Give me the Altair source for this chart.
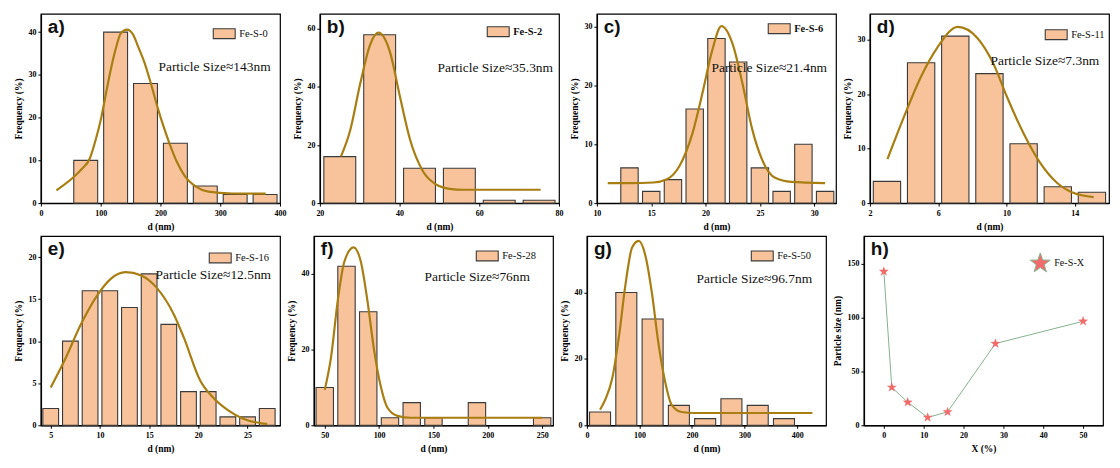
import altair as alt
import pandas as pd

FILL = "#F8C39B"
EDGE = "#3a3a3a"
CURVE = "#A87E12"
GREEN = "#86b28f"
RED = "#F26B6B"
SERIF = "Liberation Serif"
SANS = "Liberation Sans"
W, H = 240, 190
RECT = "M-1,-0.45L1,-0.45L1,0.45L-1,0.45Z"
STAR = ("M0,-1L0.235,-0.324L0.951,-0.309L0.38,0.124L0.588,0.809L0,0.4L-0.588,0.809"
        "L-0.38,0.124L-0.951,-0.309L-0.235,-0.324Z")

# ---------------- data ----------------
a_centers = [75, 125, 175, 225, 275, 325, 375]
a_freq = [10, 40, 28, 14, 4, 2, 2]
a_fit_x = [26, 54, 68, 82, 92, 101, 108, 115, 125, 134, 144, 154, 163, 173, 184, 195, 205, 215, 228, 240, 260, 280, 320, 376]
a_fit_y = [3.0, 6.0, 7.9, 10.5, 15, 20, 25, 30, 36, 39.8, 40.6, 39.5, 36.5, 33, 28, 22.5, 18, 14, 9.5, 6.5, 3.8, 2.7, 2.25, 2.2]

b_centers = [25, 35, 45, 55, 65, 75]
b_freq = [16, 58, 12, 12, 1, 1]
b_fit_x = [25.3, 27.6, 30.1, 32.6, 34.7, 37.6, 40.1, 42.6, 45.9, 49.2, 52.6, 56, 60, 75.4]
b_fit_y = [16.1, 25, 41, 54.5, 58.7, 52, 36.6, 22, 10.9, 6.4, 4.9, 4.6, 4.6, 4.6]

c_centers = [13, 15, 17, 19, 21, 23, 25, 27, 29, 31]
c_freq = [6, 2, 4, 16, 28, 24, 6, 2, 10, 2]
c_fit_x = [11, 13, 15.2, 16.4, 17.6, 18.8, 19.7, 20.6, 21.46, 22.5, 23.4, 24.3, 25.2, 26.4, 27.9, 31]
c_fit_y = [3.4, 3.4, 3.5, 4.0, 6.3, 11.9, 18.6, 25.9, 30.1, 27, 20.3, 12.5, 7.4, 4.3, 3.6, 3.4]

d_centers = [3, 5, 7, 9, 11, 13, 15]
d_freq = [4, 25.8, 30.7, 23.8, 10.9, 3, 2]
d_fit_x = [3.03, 4.0, 4.97, 5.95, 7.15, 8.28, 9.25, 10.03, 11.0, 11.97, 12.95, 13.9, 15.1]
d_fit_y = [8.1, 15.9, 23.1, 28.6, 32.4, 30.4, 25.5, 19.5, 12.8, 7.4, 3.75, 1.9, 1.1]

e_centers = [5, 7, 9, 11, 13, 15, 17, 19, 21, 23, 25, 27]
e_freq = [2, 10, 16, 16, 14, 18, 12, 4, 4, 1, 1, 2]
e_fit_x = [5, 6.4, 8.07, 9.76, 11.1, 12.6, 14.2, 15.8, 17.5, 18.5, 20.2, 21.5, 23, 24.5, 27]
e_fit_y = [4.5, 7.7, 12, 15.5, 17.4, 18.2, 17.8, 16.3, 13.2, 10.5, 5.3, 3.3, 1.8, 0.8, 0.15]

f_centers = [50, 70, 90, 110, 130, 150, 190, 250]
f_freq = [10, 42, 30, 2, 6, 2, 6, 2]
f_fit_x = [50, 55.8, 61.9, 68, 76.5, 83.2, 89.3, 95.4, 101.5, 107.6, 116.8, 129, 150, 250]
f_fit_y = [9.4, 18, 32.8, 43.2, 47, 43.2, 32.8, 19.8, 10.3, 4.7, 2.5, 2.0, 2.0, 2.0]

g_centers = [25, 75, 125, 175, 225, 275, 325, 375]
g_freq = [4, 40, 32, 6, 2, 8, 6, 2]
g_fit_x = [25, 36, 48, 61, 73.5, 86, 98.6, 111, 124, 136, 149, 161, 180, 205, 250, 429]
g_fit_y = [4.7, 8.1, 14, 26.8, 42.5, 53.5, 55.5, 51.3, 39.5, 24.8, 13, 6.2, 4, 3.7, 3.7, 3.7]

h_x = [0, 2, 6, 11, 16, 28, 50]
h_y = [143, 35.3, 21.4, 7.3, 12.5, 76, 96.7]


def annot(text, x, y, font, size, weight="normal"):
    return alt.Chart(pd.DataFrame({"t": [text]})).mark_text(
        align="left", baseline="alphabetic", font=font, fontSize=size,
        fontWeight=weight, color="#111").encode(
        x=alt.value(x), y=alt.value(y), text="t:N")


def xaxis(vals):
    return alt.Axis(values=vals, labelOverlap=False, labelFlush=False,
                    labelPadding=3, titlePadding=4)


def yaxis(vals):
    return alt.Axis(values=vals, labelOverlap=False, labelFlush=False,
                    labelPadding=2, titlePadding=4)


def hist_panel(name, label, centers, freq, binw, fx, fy, xdom, xticks, ydom, yticks,
               size_txt, tpos, lpos, lbold):
    w = 0.8 * binw
    bars = pd.DataFrame({
        "x0": [c - w / 2 for c in centers],
        "x1": [c + w / 2 for c in centers],
        "f": freq, "z": [0] * len(freq), "s": [name] * len(freq)})
    fit = pd.DataFrame({"x": fx, "y": fy})
    xs = alt.Scale(domain=xdom, nice=False, zero=False)
    ys = alt.Scale(domain=ydom, nice=False, zero=False)
    leg = alt.Legend(orient="none", legendX=lpos[0], legendY=lpos[1] - 6, title=None,
                     symbolType=RECT, symbolSize=484, symbolStrokeColor=EDGE,
                     symbolStrokeWidth=1.1, symbolFillColor=FILL, labelFont=SERIF,
                     labelFontSize=10.5, labelFontWeight="bold" if lbold else "normal",
                     labelOffset=3, padding=0, labelColor="#111")
    b = alt.Chart(bars).mark_bar(stroke=EDGE, strokeWidth=1.1, opacity=1).encode(
        x=alt.X("x0:Q", scale=xs, title="d (nm)", axis=xaxis(xticks)), x2="x1",
        y=alt.Y("f:Q", scale=ys, title="Frequency (%)", axis=yaxis(yticks)), y2="z",
        color=alt.Color("s:N", scale=alt.Scale(domain=[name], range=[FILL]), legend=leg))
    c = alt.Chart(fit).mark_line(color=CURVE, strokeWidth=2.2, interpolate="monotone").encode(
        x="x:Q", y="y:Q")
    t1 = annot(size_txt, tpos[0], tpos[1], SERIF, 13.5)
    t2 = annot(label, 7, 19, SANS, 19, "bold")
    return alt.layer(b, c, t1, t2).properties(width=W, height=H)


pa = hist_panel("Fe-S-0", "a)", a_centers, a_freq, 50, a_fit_x, a_fit_y, [0, 400],
                [0, 100, 200, 300, 400], [0, 44.3], [0, 10, 20, 30, 40],
                "Particle Size≈143nm", (118, 57), (172, 14), False)
pb = hist_panel("Fe-S-2", "b)", b_centers, b_freq, 10, b_fit_x, b_fit_y, [20, 80],
                [20, 30, 40, 50, 60, 70, 80], [0, 65.2], [0, 10, 20, 30, 40, 50, 60],
                "Particle Size≈35.3nm", (118, 58), (167, 12), True)
pc = hist_panel("Fe-S-6", "c)", c_centers, c_freq, 2, c_fit_x, c_fit_y, [10, 32],
                [10, 15, 20, 25, 30], [0, 32.2], [0, 5, 10, 15, 20, 25, 30],
                "Particle Size≈21.4nm", (115, 58), (171, 9), True)
pd_ = hist_panel("Fe-S-11", "d)", d_centers, d_freq, 2, d_fit_x, d_fit_y, [2, 16],
                 [2, 4, 6, 8, 10, 12, 14, 16], [0, 34.8], [0, 10, 20, 30],
                 "Particle Size≈7.3nm", (121, 51), (175, 15), False)
pe = hist_panel("Fe-S-16", "e)", e_centers, e_freq, 2, e_fit_x, e_fit_y, [4, 28.3],
                [5, 10, 15, 20, 25], [0, 22.5], [0, 5, 10, 15, 20],
                "Particle Size≈12.5nm", (115, 43), (168, 16), False)
pf = hist_panel("Fe-S-28", "f)", f_centers, f_freq, 20, f_fit_x, f_fit_y, [40, 260],
                [50, 100, 150, 200, 250], [0, 50], [0, 10, 20, 30, 40, 50],
                "Particle Size≈76nm", (111, 45), (162, 14), False)
pg = hist_panel("Fe-S-50", "g)", g_centers, g_freq, 50, g_fit_x, g_fit_y, [0, 455],
                [0, 100, 200, 300, 400], [0, 57], [0, 10, 20, 30, 40, 50],
                "Particle Size≈96.7nm", (110, 47), (164, 14), False)

# ---------------- panel h ----------------
hdf = pd.DataFrame({"x": h_x, "y": h_y, "s": ["Fe-S-X"] * len(h_x), "s2": ["Fe-S-X"] * len(h_x)})
hline = alt.Chart(hdf).mark_line(strokeWidth=1).encode(
    x=alt.X("x:Q", scale=alt.Scale(domain=[-5, 55], nice=False, zero=False), title="X (%)",
            axis=xaxis([0, 10, 20, 30, 40, 50])),
    y=alt.Y("y:Q", scale=alt.Scale(domain=[0, 176], nice=False, zero=False),
            title="Particle size (nm)", axis=yaxis([0, 50, 100, 150])),
    stroke=alt.Stroke("s:N", scale=alt.Scale(domain=["Fe-S-X"], range=[GREEN]),
                      legend=alt.Legend(orient="none", legendX=166, legendY=16.5, title=None,
                                        symbolType="stroke", symbolSize=441, symbolStrokeWidth=1,
                                        symbolStrokeColor=GREEN, labelFont=SERIF,
                                        labelFontSize=10.2, labelOffset=3, padding=0,
                                        labelColor="#111")))
hpts = alt.Chart(hdf).mark_point(filled=True, size=110, opacity=1, strokeWidth=0).encode(
    x="x:Q", y="y:Q",
    color=alt.value(RED),
    shape=alt.Shape("s2:N", scale=alt.Scale(domain=["Fe-S-X"], range=[STAR]),
                    legend=alt.Legend(orient="none", legendX=171.3, legendY=21.75, title=None,
                                      symbolSize=110, symbolFillColor=RED, symbolStrokeWidth=0,
                                      labelFont=SERIF, labelFontSize=10.2, labelOffset=3,
                                      padding=0, labelColor="rgba(0,0,0,0)")))
ph = alt.layer(hline, hpts, annot("h)", 7, 19, SANS, 19, "bold")).properties(width=W, height=H)

row1 = alt.hconcat(pa, pb, pc, pd_, spacing=5).resolve_scale(color="independent")
row2 = alt.hconcat(pe, pf, pg, ph, spacing=5).resolve_scale(
    color="independent", stroke="independent", shape="independent")
chart = alt.vconcat(row1, row2, spacing=3,
                    padding={"left": 5, "top": 4, "right": 2, "bottom": 1}).resolve_scale(
    color="independent", stroke="independent", shape="independent"
).configure_axis(
    grid=False, labelFont=SERIF, labelFontWeight="bold", labelFontSize=8, labelColor="black",
    titleFont=SERIF, titleFontWeight="bold", titleFontSize=9.5, titleColor="black",
    domainColor="black", domainWidth=1.4, tickColor="black", tickSize=3
).configure_view(stroke="black", strokeWidth=1.2)

chart.save("out.html", embed_options={"renderer": "svg", "actions": False})
